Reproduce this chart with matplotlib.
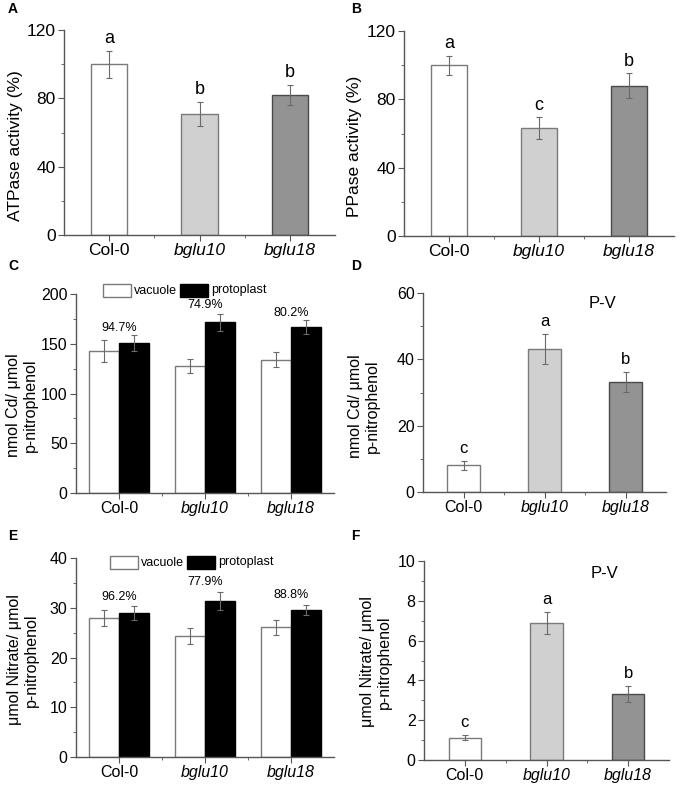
import matplotlib
matplotlib.use("Agg")
import matplotlib.pyplot as plt
import numpy as np
from matplotlib.ticker import MultipleLocator, FixedLocator
from matplotlib.patches import Rectangle

plt.rcParams['font.family'] = ['Liberation Sans', 'DejaVu Sans']

categories = ["Col-0", "bglu10", "bglu18"]
cat_italic = [False, True, True]

atpase = [100, 71, 82]
atpase_err = [8, 7, 6]
atpase_letters = ["a", "b", "b"]

ppase = [100, 63, 88]
ppase_err = [5.6, 6.5, 7.2]
ppase_letters = ["a", "c", "b"]

cd_vacuole = [143, 128, 134]
cd_vacuole_err = [11, 7, 7.5]
cd_protoplast = [151, 171.5, 167]
cd_protoplast_err = [8, 8.5, 7]
cd_pct = ["94.7%", "74.9%", "80.2%"]

cd_pv = [8.0, 43.1, 33.2]
cd_pv_err = [1.3, 4.5, 3.0]
cd_pv_letters = ["c", "a", "b"]

no3_vacuole = [27.9, 24.3, 26.1]
no3_vacuole_err = [1.6, 1.6, 1.5]
no3_protoplast = [28.9, 31.3, 29.5]
no3_protoplast_err = [1.4, 1.8, 1.0]
no3_pct = ["96.2%", "77.9%", "88.8%"]

no3_pv = [1.12, 6.9, 3.31]
no3_pv_err = [0.13, 0.56, 0.42]
no3_pv_letters = ["c", "a", "b"]

bar_colors = ["white", "#d0d0d0", "#939393"]
edge_colors = ["#7a7a7a", "#7a7a7a", "#4a4a4a"]
spine_col = "#555555"
err_col = "#6a6a6a"

W, H = 682, 785
fig = plt.figure(figsize=(W / 100, H / 100), dpi=100)


def add_ax(l, r, t, b):
    return fig.add_axes([l / W, 1 - b / H, (r - l) / W, (b - t) / H])


def set_ylabel_px(ax, text, px, py, fs):
    # px: right edge of the rotated label block, py: vertical centre
    ax.set_ylabel(text, fontsize=fs, linespacing=1.15)
    ax.yaxis.set_label_coords(px / W, 1 - py / H, transform=fig.transFigure)


def style(ax, ymax, major, minor, fs_tick):
    ax.set_xlim(0.5, 3.5)
    ax.set_ylim(0, ymax)
    for s in ["top", "right"]:
        ax.spines[s].set_visible(False)
    for s in ["left", "bottom"]:
        ax.spines[s].set_color(spine_col)
        ax.spines[s].set_linewidth(1.0)
    ax.yaxis.set_major_locator(MultipleLocator(major))
    ax.yaxis.set_minor_locator(MultipleLocator(minor))
    ax.xaxis.set_major_locator(FixedLocator([1, 2, 3]))
    ax.xaxis.set_minor_locator(FixedLocator([1.5, 2.5]))
    ax.tick_params(axis="both", which="major", direction="out", length=4,
                   color=spine_col, labelsize=fs_tick, pad=2)
    ax.tick_params(axis="both", which="minor", direction="out", length=2.5,
                   color=spine_col)
    ax.set_xticklabels(categories)
    for lab, it in zip(ax.get_xticklabels(), cat_italic):
        if it:
            lab.set_fontstyle("italic")


def single(ax, vals, errs, letters, ymax, major, minor, fs_tick, lab_off,
           fs_let):
    x = np.arange(1, 4)
    for i in range(3):
        ax.bar(x[i], vals[i], width=0.4, color=bar_colors[i],
               edgecolor=edge_colors[i], linewidth=1.0, zorder=2)
        ax.errorbar(x[i], vals[i], yerr=errs[i], color=err_col, capsize=2.5,
                    elinewidth=0.8, capthick=0.8, zorder=3)
        ax.text(x[i], vals[i] + errs[i] + lab_off, letters[i], ha="center",
                va="bottom", fontsize=fs_let)
    style(ax, ymax, major, minor, fs_tick)


def grouped(ax, vac, vac_e, prot, prot_e, pct, pct_y, ymax, major, minor,
            fs_tick):
    x = np.arange(1, 4)
    w = 0.35
    ax.bar(x - w / 2, vac, width=w, color="white", edgecolor="#7a7a7a",
           linewidth=1.0, zorder=2)
    ax.bar(x + w / 2, prot, width=w, color="black", edgecolor="black",
           linewidth=1.0, zorder=2)
    ax.errorbar(x - w / 2, vac, yerr=vac_e, fmt="none", ecolor=err_col,
                capsize=2.5, elinewidth=0.8, capthick=0.8, zorder=3)
    ax.errorbar(x + w / 2, prot, yerr=prot_e, fmt="none", ecolor=err_col,
                capsize=2.5, elinewidth=0.8, capthick=0.8, zorder=3)
    for i in range(3):
        ax.text(x[i], pct_y[i], pct[i], ha="center", va="center",
                fontsize=9)
    style(ax, ymax, major, minor, fs_tick)


def legend_boxes(x0, y0, fs):
    # pixel positions in figure
    bw, bh = 28, 13
    fig.patches.append(Rectangle((x0 / W, 1 - (y0 + bh) / H), bw / W, bh / H,
                                 transform=fig.transFigure, facecolor="white",
                                 edgecolor="#7a7a7a", lw=1.0))
    fig.text((x0 + bw + 3) / W, 1 - (y0 + bh / 2) / H, "vacuole",
             va="center", ha="left", fontsize=fs)
    x1 = x0 + 77
    fig.patches.append(Rectangle((x1 / W, 1 - (y0 + bh) / H), bw / W, bh / H,
                                 transform=fig.transFigure, facecolor="black",
                                 edgecolor="black", lw=1.0))
    fig.text((x1 + bw + 3) / W, 1 - (y0 + bh / 2) / H, "protoplast",
             va="center", ha="left", fontsize=fs)


# Panel A
axA = add_ax(64, 335, 30, 235)
single(axA, atpase, atpase_err, atpase_letters, 120, 40, 20, 12.5, 2, 13)
set_ylabel_px(axA, "ATPase activity (%)", 23, 146, 12.5)

# Panel B
axB = add_ax(404, 674, 31, 236)
single(axB, ppase, ppase_err, ppase_letters, 120, 40, 20, 12.5, 2, 13)
set_ylabel_px(axB, "PPase activity (%)", 362, 146, 12.5)

# Panel C
axC = add_ax(76, 334, 294, 493)
grouped(axC, cd_vacuole, cd_vacuole_err, cd_protoplast, cd_protoplast_err,
        cd_pct, [166, 189, 181], 200, 50, 25, 11.5)
set_ylabel_px(axC, "nmol Cd/ μmol\np-nitrophenol", 38, 405, 11.5)
legend_boxes(103, 284, 9)

# Panel D
axD = add_ax(423, 666, 293, 492)
single(axD, cd_pv, cd_pv_err, cd_pv_letters, 60, 20, 10, 11.5, 1.5, 12)
set_ylabel_px(axD, "nmol Cd/ μmol\np-nitrophenol", 380, 406, 11.5)
axD.text(603 / W, 1 - 304 / H, "P-V", transform=fig.transFigure,
         ha="center", va="center", fontsize=12)

# Panel E
axE = add_ax(76, 334, 558, 757)
grouped(axE, no3_vacuole, no3_vacuole_err, no3_protoplast, no3_protoplast_err,
        no3_pct, [32.1, 35.1, 32.5], 40, 10, 5, 11.5)
set_ylabel_px(axE, "μmol Nitrate/ μmol\np-nitrophenol", 39, 660, 11.5)
legend_boxes(110, 556, 9)

# Panel F
axF = add_ax(424, 669, 561, 760)
single(axF, no3_pv, no3_pv_err, no3_pv_letters, 10, 2, 1, 11.5, 0.25, 12)
set_ylabel_px(axF, "μmol Nitrate/ μmol\np-nitrophenol", 392, 662, 11.5)
axF.text(604 / W, 1 - 573 / H, "P-V", transform=fig.transFigure,
         ha="center", va="center", fontsize=12)

# Panel letters
for lab, (px, py) in zip("ABCDEF", [(8, 9), (351, 9), (8, 266), (351, 266),
                                    (8, 536), (351, 536)]):
    fig.text(px / W, 1 - py / H, lab, ha="left", va="center", fontsize=10,
             fontweight="bold")

fig.savefig("out.png", dpi=100)
